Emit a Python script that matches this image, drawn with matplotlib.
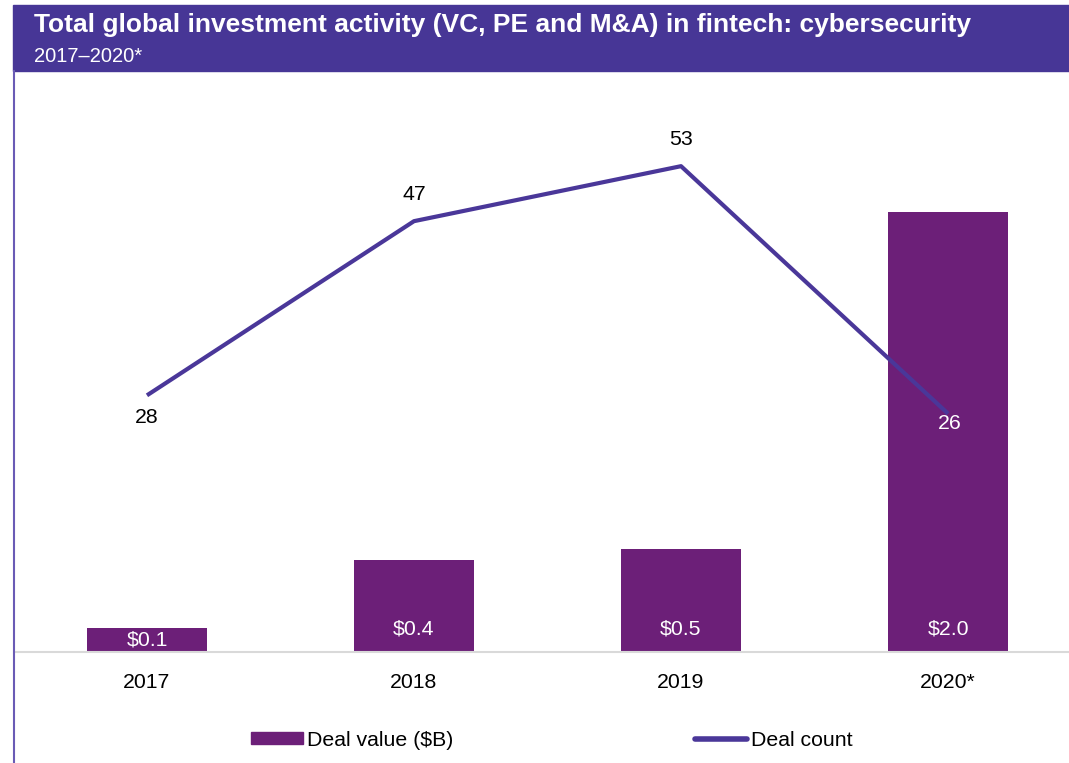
import matplotlib.pyplot as plt
from matplotlib.patches import Rectangle
from matplotlib.lines import Line2D
import numpy as np

plt.rcParams['font.family'] = ['Liberation Sans', 'DejaVu Sans']

years = ['2017', '2018', '2019', '2020*']
deal_value = [0.11, 0.42, 0.47, 2.0]
deal_value_labels = ['$0.1', '$0.4', '$0.5', '$2.0']
deal_count = [28, 47, 53, 26]

bar_color = '#6c1f78'
line_color = '#4a3799'
header_color = '#473696'
fs = 15.3

W, H = 1069, 763
fig = plt.figure(figsize=(W / 100, H / 100), dpi=100)

# header band
fig.patches.append(Rectangle((13 / W, 1 - 71 / H), 1 - 13 / W, 66 / H,
                             transform=fig.transFigure, color=header_color, zorder=0))
fig.text(34 / W, 1 - 25 / H, 'Total global investment activity (VC, PE and M&A) in fintech: cybersecurity',
         color='white', fontsize=19, fontweight='bold', va='center')
fig.text(34 / W, 1 - 57 / H, '2017\u20132020*', color='white', fontsize=14.5, va='center')
# left border line
fig.add_artist(Line2D([14 / W, 14 / W], [0, 1 - 71 / H], transform=fig.transFigure,
                      color='#6a5bb5', lw=1.5))

ax = fig.add_axes([14 / W, 111 / H, 1 - 14 / W, 572 / H])
ax2 = ax.twinx()
x = np.arange(len(years))

ax.bar(x, deal_value, width=0.45, color=bar_color, zorder=2)
for xi, v, lab in zip(x, deal_value, deal_value_labels):
    ax.text(xi, min(0.105, v / 2), lab, color='white', fontsize=fs,
            ha='center', va='center', clip_on=True, zorder=3)

ax2.plot(x, deal_count, color=line_color, lw=3, solid_capstyle='butt', zorder=4)
offsets = [-22, 27, 27, -10]
for xi, c, off in zip(x, deal_count, offsets):
    col = 'white' if xi == 3 else 'black'
    ax2.annotate(str(c), (xi, c), xytext=(0 if xi != 3 else 2, off), textcoords='offset pixels',
                 ha='center', va='center', fontsize=fs, color=col)

ax.set_xlim(-0.498, 3.453)
ax.set_ylim(0, 2.6)
ax2.set_ylim(0, 62.4)
ax.set_zorder(ax2.get_zorder() - 1)
ax2.patch.set_visible(False)

for a in (ax, ax2):
    for s in a.spines.values():
        s.set_visible(False)
    a.set_yticks([])
ax.spines['bottom'].set_visible(True)
ax.spines['bottom'].set_color('#d9d9d9')
ax.spines['bottom'].set_linewidth(1.5)
ax.spines['bottom'].set_zorder(5)
ax.set_xticks(x)
ax.set_xticklabels(years, fontsize=fs)
ax.tick_params(axis='x', length=0, pad=15)

# legend
leg = fig.legend([Rectangle((0, 0), 1, 1, color=bar_color),
                  Line2D([0], [0], color=line_color, lw=4, solid_capstyle='round')],
                 ['Deal value ($B)', 'Deal count'], loc='center', ncol=2,
                 bbox_to_anchor=(552 / W, 1 - 740 / H), frameon=False, fontsize=fs,
                 handlelength=2.45, handleheight=0.5, handletextpad=0.2, columnspacing=11.35)

fig.savefig('out.png', dpi=100)
